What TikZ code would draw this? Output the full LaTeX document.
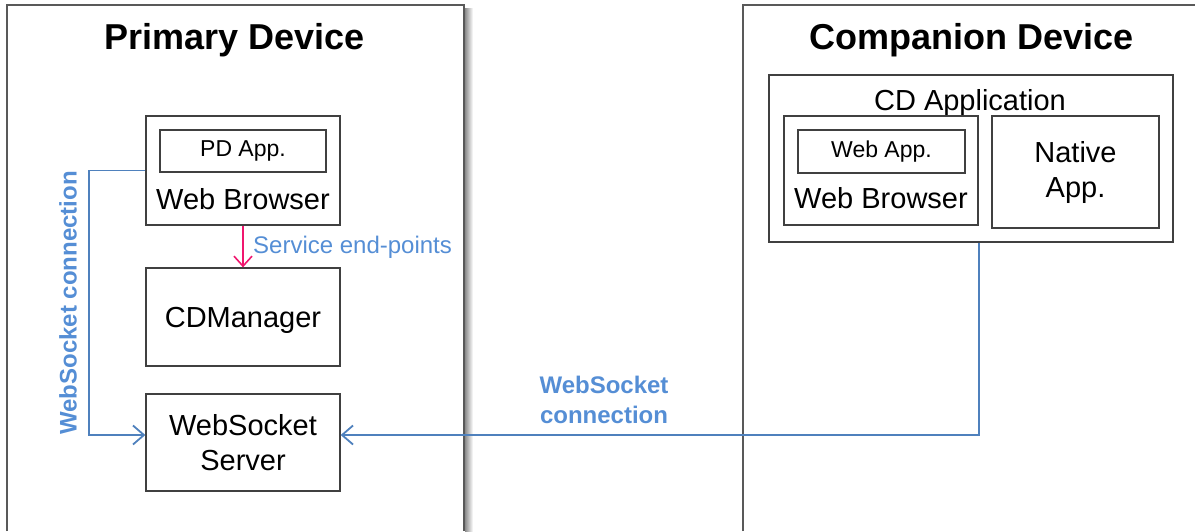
\documentclass[tikz,border=0pt]{standalone}
\usepackage{fontspec}
\setmainfont{Liberation Sans}
\setsansfont{Liberation Sans}
\usetikzlibrary{arrows.meta}

\definecolor{frameGray}{HTML}{595959}
\definecolor{boxGray}{HTML}{404040}
\definecolor{linkBlue}{HTML}{4F81BD}
\definecolor{textBlue}{HTML}{558ED5}
\definecolor{endPink}{HTML}{F0166E}

\begin{document}
\begin{tikzpicture}[x = 1pt, y = -1pt, font=\sffamily]
	\tikzstyle{frameStyle} = [draw = frameGray, line width = 1.4pt]
	\tikzstyle{boxStyle} = [shape = rectangle, draw = boxGray, line width = 1.3pt, inner sep = 0pt, align = center, font = \sffamily\fontsize{29}{35}\selectfont]
	\tikzstyle{smallBoxStyle} = [boxStyle, font = \sffamily\fontsize{23}{28}\selectfont]
	\tikzstyle{titleStyle} = [anchor = base, inner sep = 0pt, font = \sffamily\bfseries\fontsize{36}{42}\selectfont]
	\tikzstyle{textStyle} = [anchor = base, inner sep = 0pt, font = \sffamily\fontsize{29}{35}\selectfont]
	\tikzstyle{linkStyle} = [draw = linkBlue, line width = 1.8pt, -{Straight Barb[length = 11pt, width = 19pt, line width = 1.8pt]}]
	\tikzstyle{linkLabelStyle} = [text = textBlue, inner sep = 0pt, font = \sffamily\bfseries\fontsize{24}{30}\selectfont]
	\useasboundingbox (0,0) rectangle (1195,531);
	\shade[left color = black!45, right color = white] (465,8) rectangle (473,531);
	\draw[frameStyle] (7,531) |- (464,5) -- (464,531);
	\draw[frameStyle] (743,531) |- (1195,5);
	\node[titleStyle] (pdTitle) at (235,49) {Primary Device};
	\node[titleStyle] (cdTitle) at (972,49) {Companion Device};
	\node[boxStyle, minimum width = 194pt, minimum height = 109pt] (pdBrowser) at (243,170.5) {};
	\node[smallBoxStyle, minimum width = 166pt, minimum height = 42pt] (pdApp) at (243,151) {PD App.};
	\node[textStyle] (pdBrowserText) at (243,209) {Web Browser};
	\node[boxStyle, minimum width = 194pt, minimum height = 98pt, text depth = 0pt] (cdManager) at (243,317) {CDManager};
	\node[boxStyle, minimum width = 194pt, minimum height = 97pt] (wsServer) at (243,442.5) {WebSocket\\Server};
	\node[boxStyle, minimum width = 404pt, minimum height = 167pt] (cdApp) at (971,158.5) {};
	\node[textStyle] (cdAppText) at (970,110) {CD Application};
	\node[boxStyle, minimum width = 194pt, minimum height = 109pt] (cdBrowser) at (881,170.5) {};
	\node[smallBoxStyle, minimum width = 167pt, minimum height = 43pt] (webApp) at (881.5,151.5) {Web App.};
	\node[textStyle] (cdBrowserText) at (881,208) {Web Browser};
	\node[boxStyle, minimum width = 167pt, minimum height = 112pt] (nativeApp) at (1075.5,172) {Native\\App.};
	\draw[draw = endPink, line width = 1.6pt, -{Straight Barb[length = 10pt, width = 18pt, line width = 1.6pt]}] (pdBrowser.south) -- (cdManager.north);
	\node[anchor = base west, inner sep = 0pt, text = textBlue, font = \sffamily\fontsize{24}{29}\selectfont] (endPointText) at (253,253) {Service end-points};
	\draw[linkStyle] (pdBrowser.west) -- ++(-56,0) |- ([yshift = 7.5pt]wsServer.west);
	\draw[linkStyle] (cdApp.south -| cdBrowser.east) |- ([yshift = 7.5pt]wsServer.east);
	\node[linkLabelStyle, rotate = 90] (leftLinkText) at (68,303) {WebSocket connection};
	\node[linkLabelStyle, align = center] (midLinkText) at (604,400) {WebSocket\\connection};
\end{tikzpicture}
\end{document}
